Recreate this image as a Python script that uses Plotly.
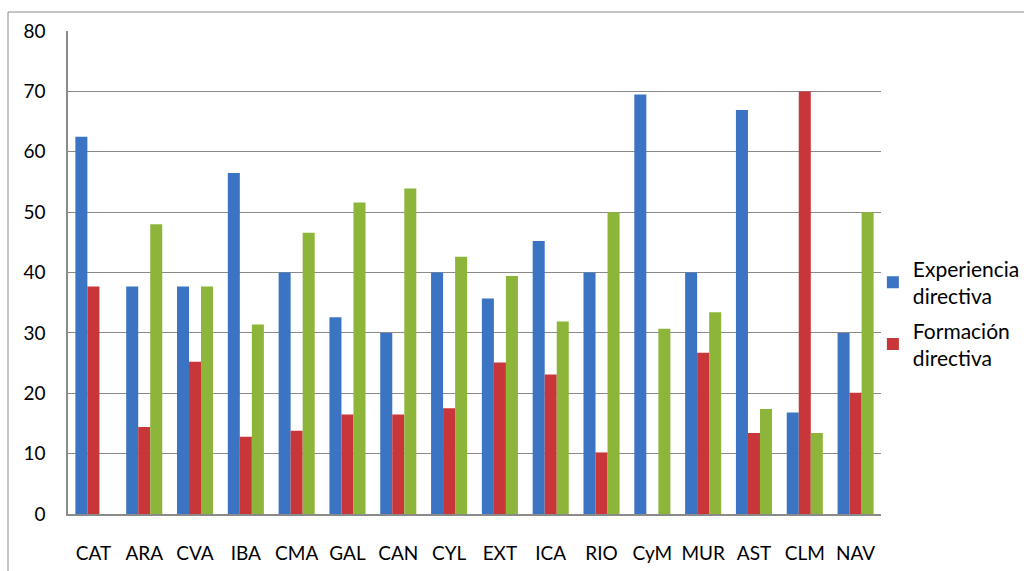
import plotly.graph_objects as go

# Comunidades autónomas
regiones = ["CAT", "ARA", "CVA", "IBA", "CMA", "GAL", "CAN", "CYL",
            "EXT", "ICA", "RIO", "CyM", "MUR", "AST", "CLM", "NAV"]

experiencia = [62.5, 37.7, 37.7, 56.5, 40.0, 32.6, 30.0, 40.0,
               35.7, 45.2, 40.0, 69.5, 40.0, 66.9, 16.8, 30.0]
formacion = [37.7, 14.4, 25.2, 12.8, 13.8, 16.5, 16.5, 17.5,
             25.1, 23.1, 10.2, 0.0, 26.7, 13.4, 70.0, 20.1]
tercera = [0.0, 48.0, 37.7, 31.4, 46.6, 51.6, 53.9, 42.6,
           39.4, 31.9, 50.0, 30.7, 33.4, 17.4, 13.4, 50.0]

y_ticks = [0, 10, 20, 30, 40, 50, 60, 70, 80]

FONT = "Lato, 'Open Sans', sans-serif"

fig = go.Figure()
fig.add_trace(go.Bar(
    x=regiones, y=experiencia, name="Experiencia<br>directiva",
    marker=dict(color="#3B74C2", line=dict(width=0)),
    legendgroup="a",
))
fig.add_trace(go.Bar(
    x=regiones, y=formacion, name="Formación<br>directiva",
    marker=dict(color="#C8363A", line=dict(width=0)),
    legendgroup="b",
))
fig.add_trace(go.Bar(
    x=regiones, y=tercera, name="",
    marker=dict(color="#8DB53A", line=dict(width=0)),
    showlegend=False,
))

# outer chart frame (top and left edges)
frame = "#8a8a8a"
fig.add_shape(type="line", xref="paper", yref="paper",
              x0=-0.0738, x1=1.2, y0=1.0393, y1=1.0393,
              line=dict(color=frame, width=1))
fig.add_shape(type="line", xref="paper", yref="paper",
              x0=-0.0738, x1=-0.0738, y0=1.0393, y1=-0.2,
              line=dict(color=frame, width=1))

fig.update_layout(
    width=1024, height=571,
    margin=dict(l=68, r=143, t=31, b=57, autoexpand=False),
    paper_bgcolor="white", plot_bgcolor="white",
    barmode="group", bargap=0.29, bargroupgap=0,
    font=dict(family=FONT, size=19, color="#000000"),
    legend=dict(x=0.99, xanchor="left", y=0.415, yanchor="middle",
                font=dict(size=21), tracegroupgap=4,
                itemwidth=30, bgcolor="rgba(0,0,0,0)"),
    showlegend=True,
)
fig.update_xaxes(
    showline=True, linecolor=frame, linewidth=1.5,
    showgrid=False, ticks="", ticklabelstandoff=21,
    tickfont=dict(size=19),
)
fig.update_yaxes(
    range=[0, 80], tickvals=y_ticks,
    showline=True, linecolor=frame, linewidth=1.5,
    showgrid=True, gridcolor=frame, gridwidth=1,
    ticks="", ticklabelstandoff=17, zeroline=False,
    tickfont=dict(size=19),
)

fig.write_html("out.html")
